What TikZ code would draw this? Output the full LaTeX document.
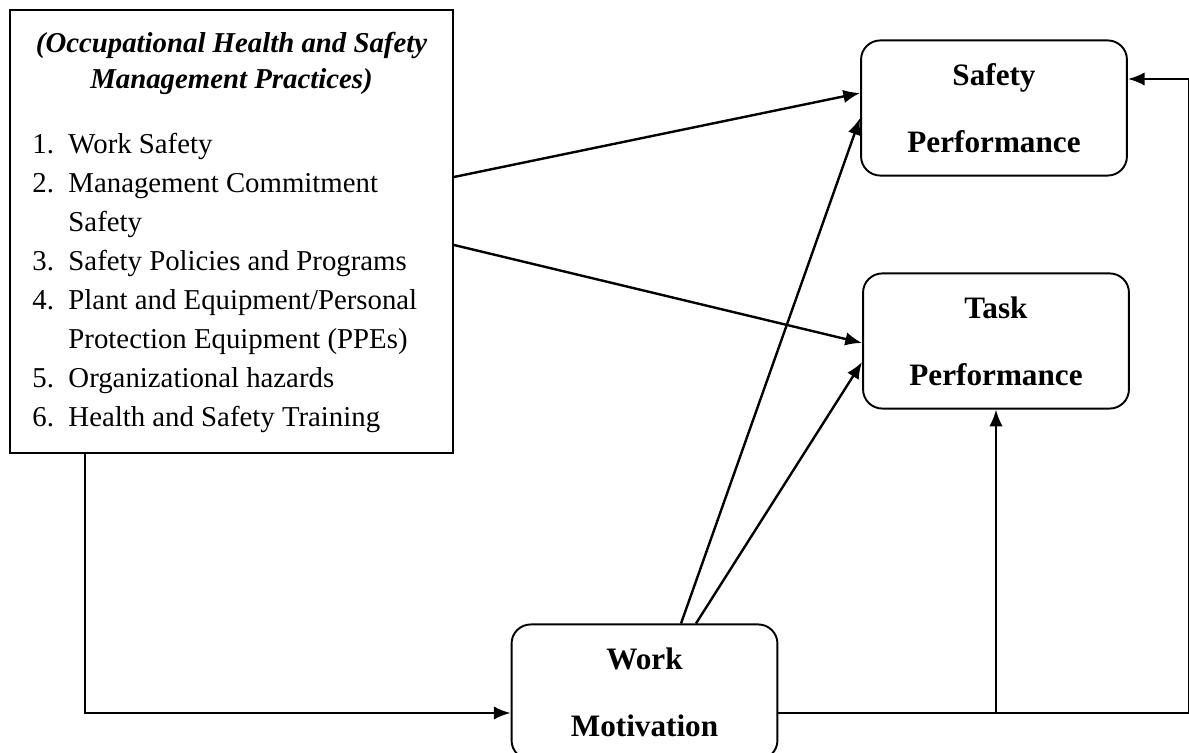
\documentclass[tikz,border=0pt]{standalone}
\usepackage{fontspec}
\setmainfont{Liberation Serif}
\usetikzlibrary{arrows.meta,calc}

\newcommand{\itemno}[1]{\makebox[15pt][l]{#1}}

\begin{document}
\begin{tikzpicture}
	[x=0.4167pt,y=-0.4167pt,>={Latex[length=7pt,width=5.6pt]},
		conn/.style={->,line width=1pt},
		list node/.style={draw,line width=0.8pt,minimum width=184.6pt,minimum height=184.6pt,inner sep=0pt},
		real node/.style={draw,line width=0.8pt,rounded corners=8pt,minimum width=110.8pt,minimum height=56.3pt,align=center,font=\fontsize{13}{14}\selectfont\bfseries}]

	\useasboundingbox (0,0) rectangle (1189,753);

	% practices box
	\node[list node] (P) at (231.5,231.5) {};
	\node[anchor=north,align=center,inner sep=0pt,font=\fontsize{12}{15}\selectfont\bfseries\itshape] (Ptitle) at (231.5,32) {(Occupational Health and Safety\\Management Practices)};
	\node[anchor=north west,align=left,inner sep=0pt,font=\fontsize{12}{16.25}\selectfont] (Plist) at (32,133) {%
		\itemno{1.}Work Safety\\
		\itemno{2.}Management Commitment\\
		\itemno{}Safety\\
		\itemno{3.}Safety Policies and Programs\\
		\itemno{4.}Plant and Equipment/Personal\\
		\itemno{}Protection Equipment (PPEs)\\
		\itemno{5.}Organizational hazards\\
		\itemno{6.}Health and Safety Training};

	% outcomes
	\node[real node] (S) at (994,108) {Safety\\[14pt]Performance};
	\node[real node] (T) at (996,341) {Task\\[14pt]Performance};
	\node[real node] (W) at (644.5,692) {Work\\[14pt]Motivation};

	\coordinate (Wout) at ($(W.east)+(0,21)$);

	\draw[conn] ($(P.east)+(0,-54.5)$) -- ($(S.west)+(0,-15)$);
	\draw[conn] ($(P.east)+(0,13.5)$) -- ($(T.west)+(0,2)$);
	\draw[conn] ($(W.north)+(36.5,0)$) -- ($(S.west)+(0,10)$);
	\draw[conn] ($(W.north)+(51.5,0)$) -- ($(T.west)+(0,21)$);
	\draw[conn] ($(P.south west)+(76,0)$) |- ($(W.west)+(0,21)$);
	\draw[conn] (Wout) -- ++(411,0) |- ($(S.east)+(0,-29)$);
	\draw[conn] (T.south |- Wout) -- (T.south);

\end{tikzpicture}
\end{document}
